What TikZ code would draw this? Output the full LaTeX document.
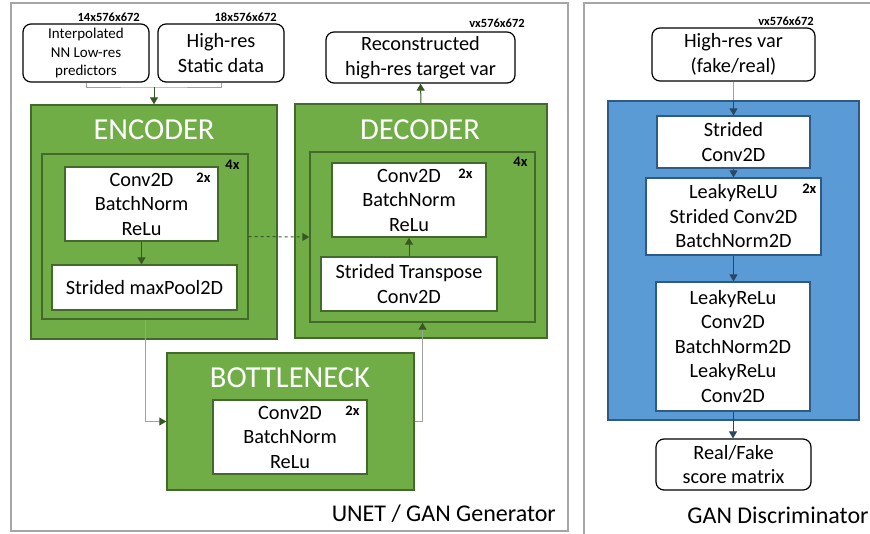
\documentclass[tikz,border=0pt]{standalone}
\usepackage{fontspec}
\setmainfont{Carlito}
\usetikzlibrary{arrows.meta,positioning}

\definecolor{panelgray}{HTML}{A6A6A6}
\definecolor{linegray}{HTML}{A0A0A0}
\definecolor{layergreen}{HTML}{70AD47}
\definecolor{edgegreen}{HTML}{44692D}
\definecolor{arrowgreen}{HTML}{385723}
\definecolor{layerblue}{HTML}{5B9BD5}
\definecolor{edgeblue}{HTML}{2F5A85}
\definecolor{arrowblue}{HTML}{2A4763}

\begin{document}
\begin{tikzpicture}[x=1pt,y=-1pt,>={Triangle[length=7pt,width=8pt]},
  panel/.style={draw=panelgray,line width=1.6pt},
  txt/.style={font=\fontsize{20.3}{24.5}\selectfont,align=center,inner sep=0pt},
  inbox/.style={txt,draw=black,line width=1.2pt,rounded corners=8pt,fill=white},
  layer/.style={draw=edgegreen,line width=1.4pt,fill=layergreen,inner sep=0pt},
  opbox/.style={txt,draw=edgegreen,line width=1.4pt,fill=white},
  dlayer/.style={draw=edgeblue,line width=1.4pt,fill=layerblue,inner sep=0pt},
  dopbox/.style={txt,draw=edgeblue,line width=1.2pt,fill=white},
  title/.style={font=\fontsize{30.5}{34}\selectfont,text=white},
  dim/.style={font=\fontsize{12.5}{14}\selectfont\bfseries,inner sep=0pt},
  rep/.style={font=\fontsize{14.5}{16}\selectfont\bfseries,inner sep=0pt},
  caption/.style={font=\fontsize{24}{28}\selectfont,inner sep=0pt},
  feed/.style={draw=linegray,line width=1pt},
  flow/.style={draw=arrowgreen,line width=1pt,->},
  skip/.style={draw=linegray,line width=1pt,-{Triangle[length=7pt,width=8pt,color=arrowgreen]}},
  dflow/.style={draw=arrowblue,line width=1pt,->}]

\useasboundingbox (0,0) rectangle (870,533);

% The two panels
\draw[panel] (11,3) rectangle (568,531);
\draw[panel] (584,3) rectangle (890,545);

% Generator inputs
\node[inbox,font=\fontsize{15}{18.5}\selectfont,minimum width=126pt,minimum height=58pt] (in1) at (86,53) {Interpolated\\NN Low-res\\predictors};
\node[inbox,minimum width=126pt,minimum height=58pt] (in2) at (221,53) {High-res\\Static data};
\node[dim,anchor=east] (in1-dim) at (140,17) {14x576x672};
\node[dim,anchor=east] (in2-dim) at (277,17) {18x576x672};

% Encoder
\node[layer,minimum width=246pt,minimum height=234pt] (enc) at (154,222) {};
\node[title] (enc-title) at (154,130) {ENCODER};
\node[layer,minimum width=206pt,minimum height=165pt] (enc4) at (145,236.5) {};
\node[rep,anchor=north east] (enc4-rep) at ([xshift=-9pt,yshift=-7pt]enc4.north east) {4x};
\node[opbox,minimum width=153pt,minimum height=74pt] (encconv) at (141.5,204) {Conv2D\\BatchNorm\\ReLu};
\node[rep,anchor=north east] (encconv-rep) at ([xshift=-8pt,yshift=-6pt]encconv.north east) {2x};
\node[opbox,minimum width=185pt,minimum height=45pt] (encpool) at (144.5,287.5) {Strided maxPool2D};

% Decoder
\node[layer,minimum width=252pt,minimum height=234pt] (dec) at (421,221) {};
\node[title] (dec-title) at (420,130) {DECODER};
\node[layer,minimum width=225pt,minimum height=170pt] (dec4) at (422.5,237) {};
\node[rep,anchor=north east] (dec4-rep) at ([xshift=-8pt,yshift=-6pt]dec4.north east) {4x};
\node[opbox,minimum width=154pt,minimum height=74pt] (decconv) at (409,200) {Conv2D\\BatchNorm\\ReLu};
\node[rep,anchor=north east] (decconv-rep) at ([xshift=-14pt,yshift=-6pt]decconv.north east) {2x};
\node[opbox,minimum width=176pt,minimum height=54pt] (dectrans) at (409,284) {Strided Transpose\\Conv2D};

% Output
\node[inbox,minimum width=189pt,minimum height=51pt] (out) at (420.5,57.5) {Reconstructed\\high-res target var};
\node[dim] (out-dim) at (497,23) {vx576x672};

% Bottleneck
\node[layer,minimum width=247pt,minimum height=137pt] (bot) at (290.5,421.5) {};
\node[title] (bot-title) at (290,378) {BOTTLENECK};
\node[opbox,minimum width=154pt,minimum height=74pt] (botconv) at (290,437) {Conv2D\\BatchNorm\\ReLu};
\node[rep,anchor=north east] (botconv-rep) at ([xshift=-8pt,yshift=-6pt]botconv.north east) {2x};

\node[caption,anchor=east] (gen-name) at (556,514) {UNET / GAN Generator};

% Generator connectors
\coordinate (merge) at (154,87);
\draw[feed] (in1.south) |- (merge) -| (in2.south);
\draw[flow] (merge) -- (enc.north);
\draw[flow] (encconv.south) -- (encconv.south |- encpool.north);
\draw[flow,dashed] (enc4.east) -- (dec4.west);
\draw[skip] (enc4.south) |- (bot.west);
\draw[skip] (bot.east) -| (dec4.south);
\draw[flow] (dectrans.north) -- (decconv.south);
\draw[flow] (dec.north) -- (out.south);

% Discriminator
\node[dim] (dis-dim) at (786,21) {vx576x672};
\node[inbox,minimum width=163pt,minimum height=53pt] (disin) at (733.5,54.5) {High-res var\\(fake/real)};
\node[dlayer,minimum width=251pt,minimum height=319pt] (disc) at (733.5,260.5) {};
\node[dopbox,minimum width=153pt,minimum height=52pt] (sconv) at (733.5,142) {Strided\\Conv2D};
\node[dopbox,minimum width=175pt,minimum height=77pt] (leaky) at (733.5,216.5) {LeakyReLU\\Strided Conv2D\\BatchNorm2D};
\node[rep,anchor=north east] (leaky-rep) at ([xshift=-5pt,yshift=-6pt]leaky.north east) {2x};
\node[dopbox,minimum width=154pt,minimum height=129pt] (stack) at (733,346.5) {LeakyReLu\\Conv2D\\BatchNorm2D\\LeakyReLu\\Conv2D};
\node[inbox,minimum width=155pt,minimum height=51pt] (score) at (733.5,464.5) {Real/Fake\\score matrix};
\node[caption] (dis-name) at (778,515) {GAN Discriminator};

% Discriminator connectors
\draw[feed] (disin.south) -- (disin.south |- disc.north);
\draw[dflow] (disin.south |- disc.north) -- (sconv.north);
\draw[dflow] (sconv.south) -- (leaky.north);
\draw[dflow] (leaky.south) -- (leaky.south |- stack.north);
\draw[dflow] (stack.south) -- (stack.south |- score.north);

\end{tikzpicture}
\end{document}
